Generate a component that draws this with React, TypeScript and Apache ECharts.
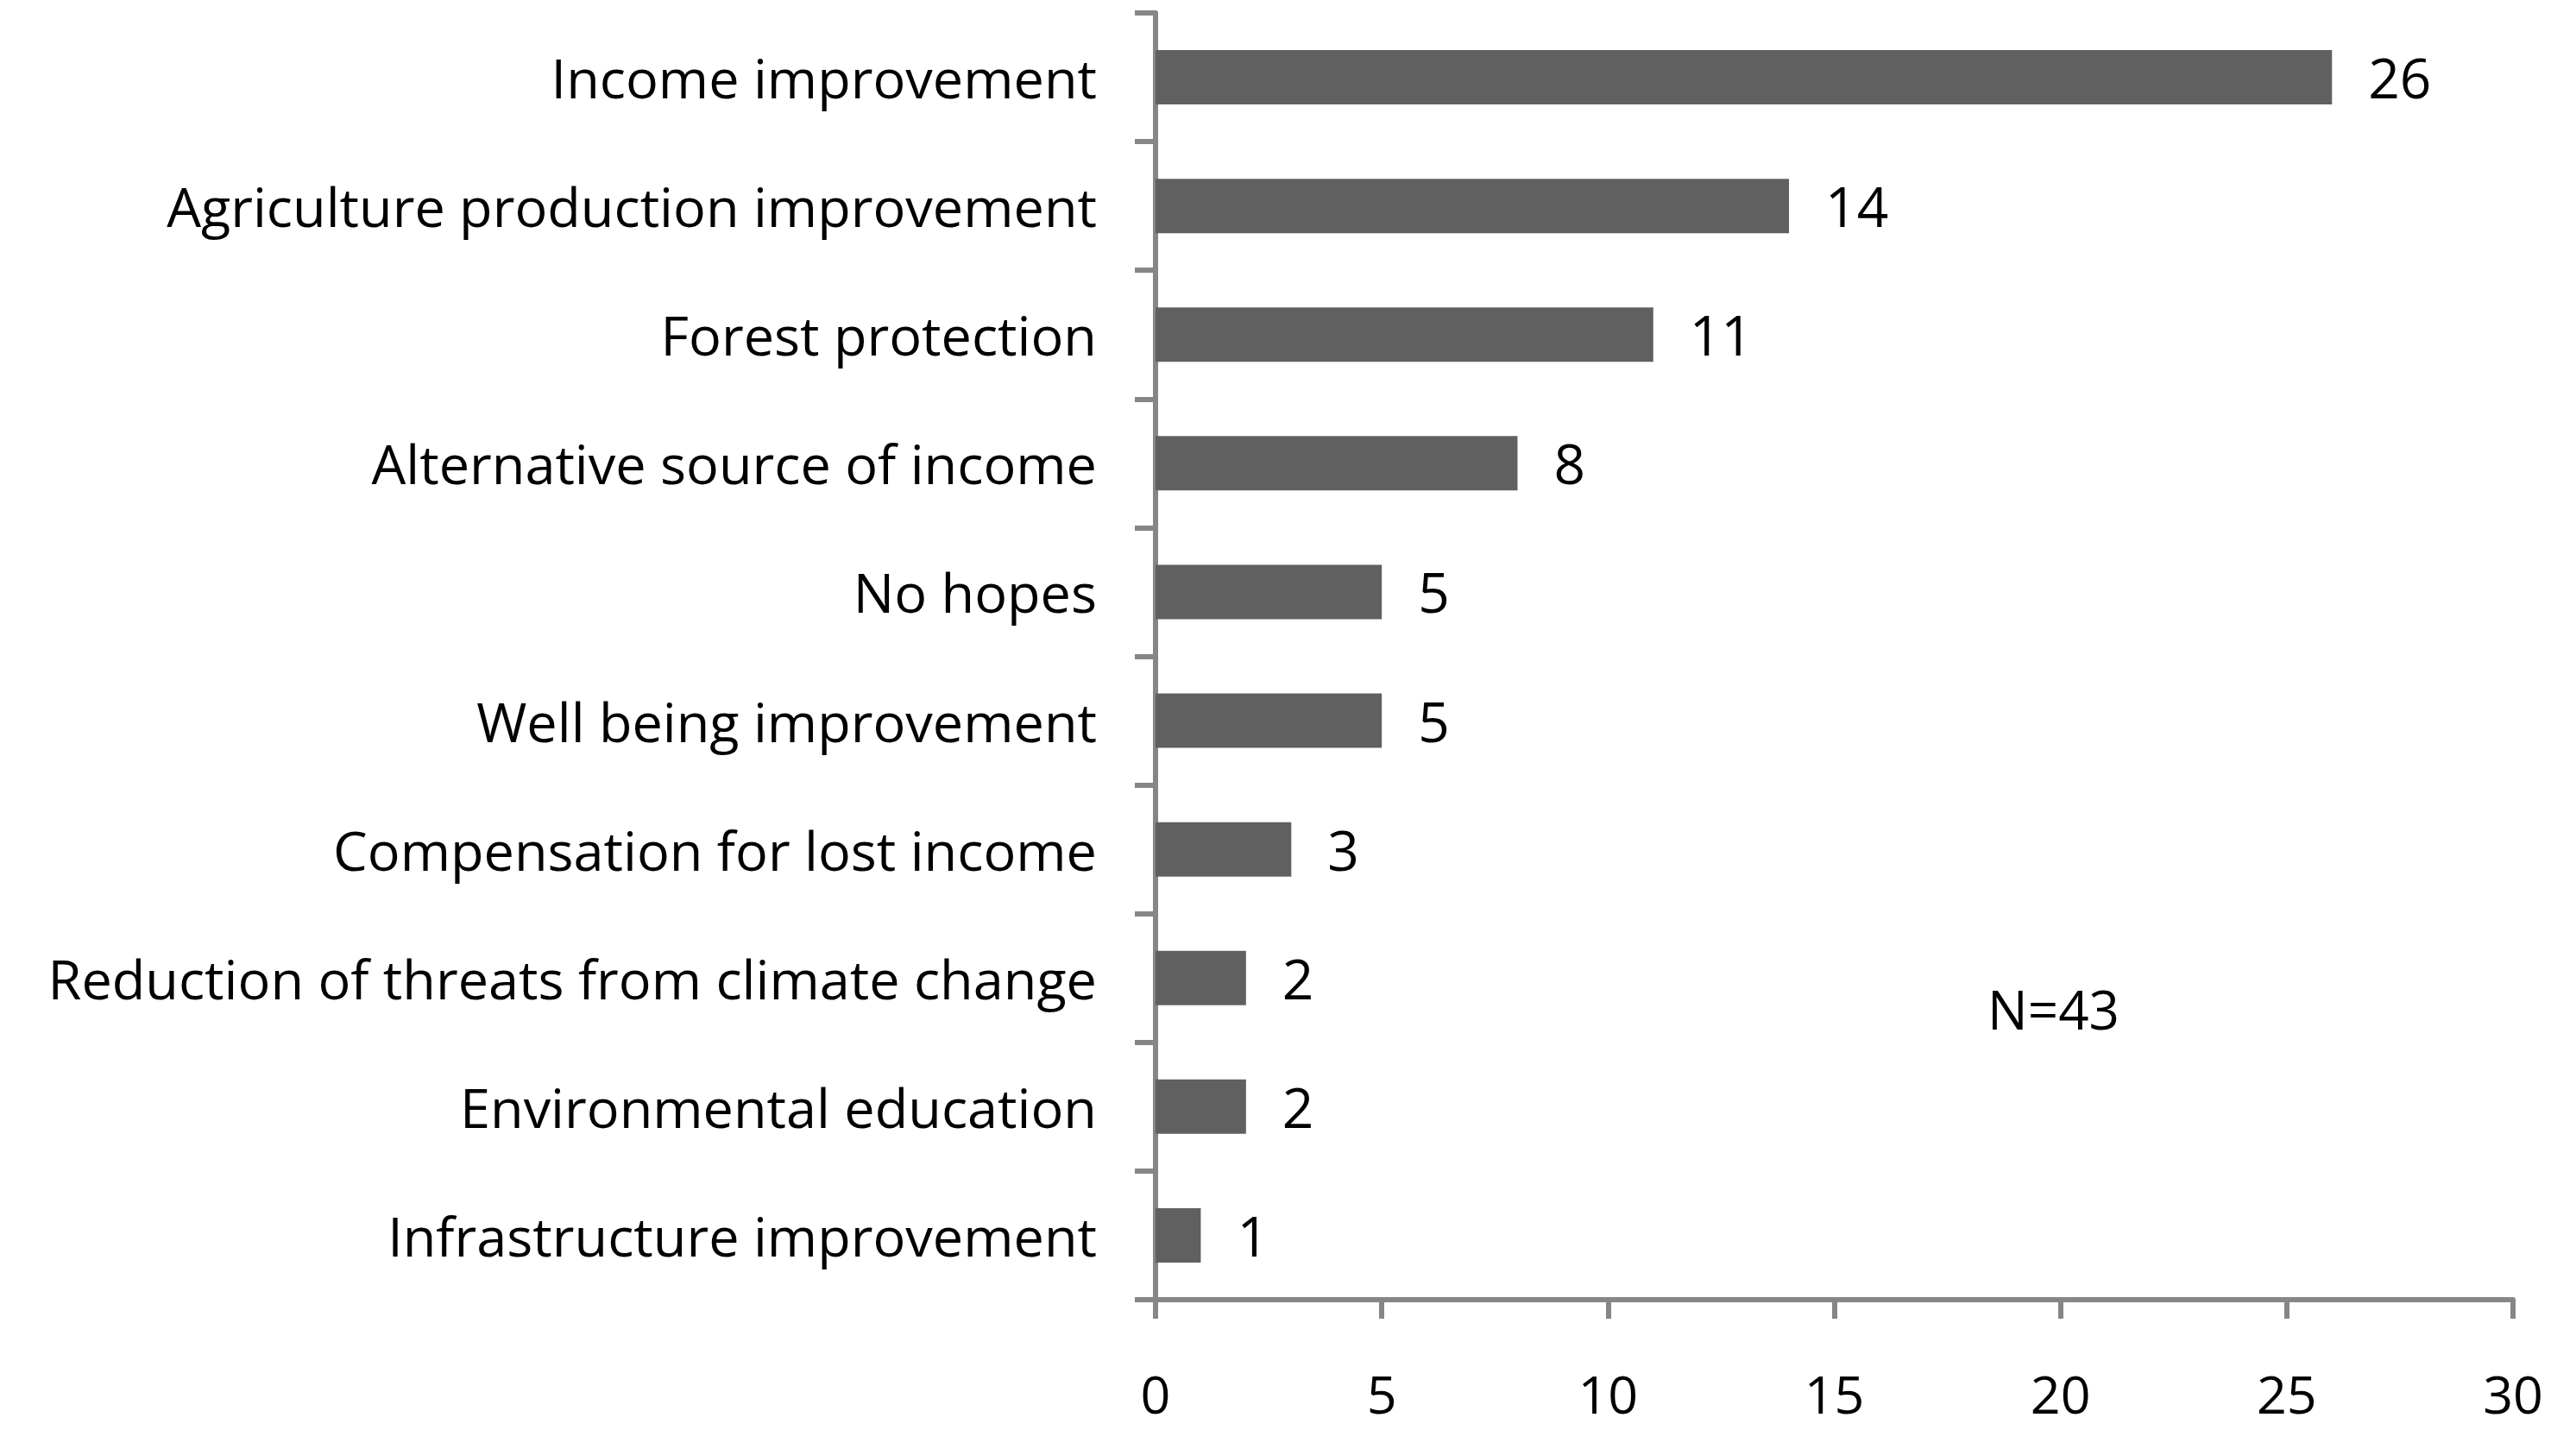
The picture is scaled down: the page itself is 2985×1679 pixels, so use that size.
import React, { useEffect, useRef } from "react";
import * as echarts from "echarts";

const categories = [
  "Income improvement",
  "Agriculture production improvement",
  "Forest protection",
  "Alternative source of income",
  "No hopes",
  "Well being improvement",
  "Compensation for lost income",
  "Reduction of threats from climate change",
  "Environmental education",
  "Infrastructure improvement",
];
const values = [26, 14, 11, 8, 5, 5, 3, 2, 2, 1];
const noteText = "N=43";

const FONT = "Open Sans";

export default function App() {
  const ref = useRef<HTMLDivElement>(null);
  useEffect(() => {
    if (!ref.current) return;
    const chart = echarts.init(ref.current, null, { renderer: "svg" });
    chart.setOption({
      animation: false,
      backgroundColor: "#ffffff",
      grid: { left: 1339, right: 73, top: 15, bottom: 173, containLabel: false },
      xAxis: {
        type: "value",
        min: 0,
        max: 30,
        interval: 5,
        splitLine: { show: false },
        axisLine: { show: true, lineStyle: { color: "#868686", width: 6 } },
        axisTick: { show: true, length: 22, lineStyle: { color: "#868686", width: 6 } },
        axisLabel: { color: "#000", fontSize: 61, fontFamily: FONT, margin: 78 },
      },
      yAxis: {
        type: "category",
        inverse: true,
        data: categories,
        axisLine: { show: true, lineStyle: { color: "#868686", width: 6 } },
        axisTick: { show: true, length: 24, lineStyle: { color: "#868686", width: 6 } },
        axisLabel: { color: "#000", fontSize: 63, fontFamily: FONT, margin: 68 },
      },
      series: [
        {
          type: "bar",
          data: values,
          barWidth: 63,
          itemStyle: { color: "#606060" },
          label: {
            show: true,
            position: "right",
            distance: 42,
            color: "#000",
            fontSize: 64,
            fontFamily: FONT,
          },
        },
      ],
      graphic: [
        {
          type: "text",
          left: 2383 - 80,
          top: 1180 - 42,
          style: { text: noteText, fontSize: 62, fontFamily: FONT, fill: "#000" },
        },
      ],
    });
    return () => chart.dispose();
  }, []);
  return (
    <div
      ref={ref}
      style={{ position: "fixed", left: 0, top: 0, width: 2985, height: 1679 }}
    />
  );
}
